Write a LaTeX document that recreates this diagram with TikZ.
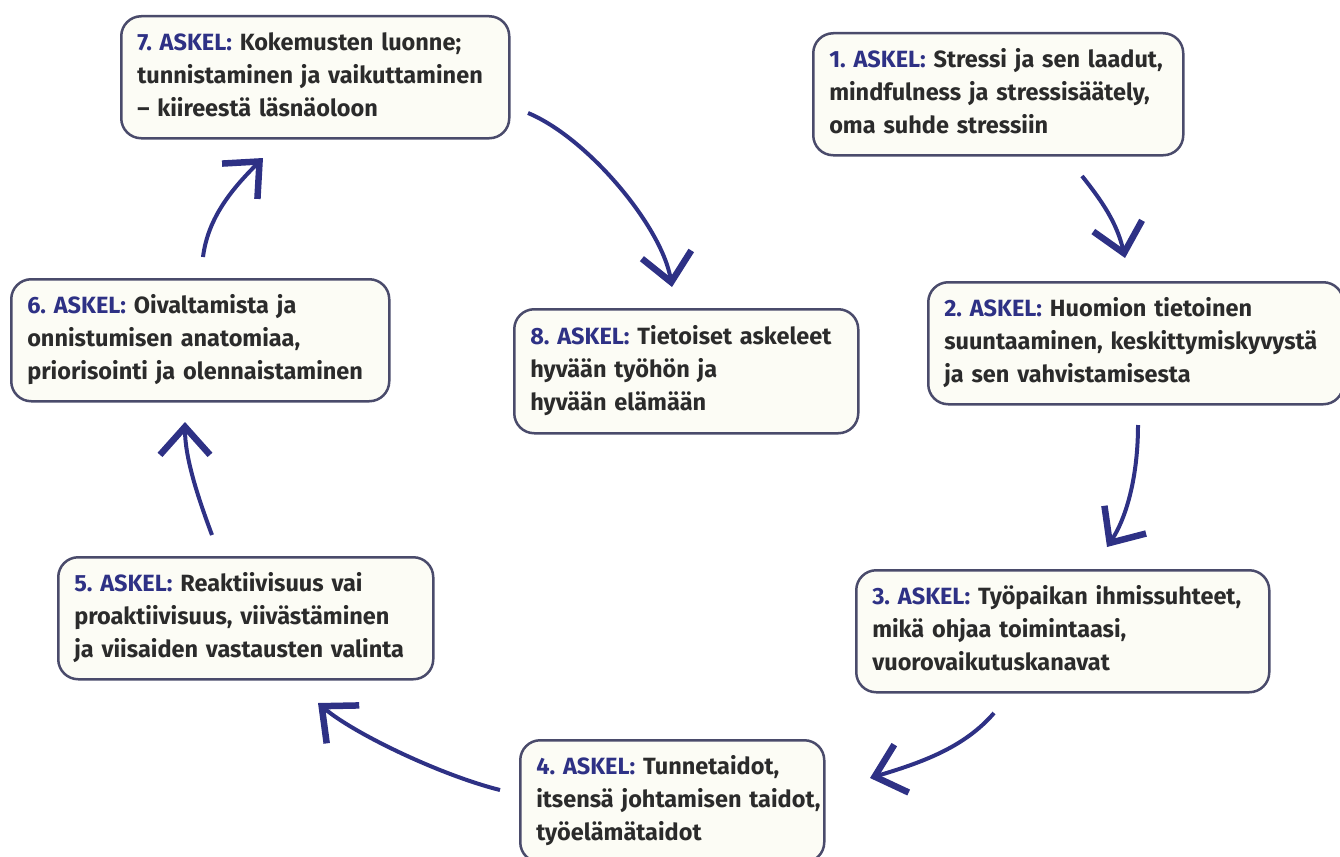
\documentclass[tikz,border=0pt]{standalone}
\usepackage{fontspec}
\setmainfont{Fira Sans}
\usetikzlibrary{arrows.meta}
\definecolor{navy}{HTML}{2E3185}
\definecolor{rim}{HTML}{4A4B6B}
\definecolor{paper}{HTML}{FCFCF5}
\definecolor{ink}{HTML}{2B2B2B}
\newcommand{\askel}[1]{{\color{navy}#1.\ ASKEL:}}
\newcommand{\steptext}[1]{\begin{tabular}{@{}l@{}}#1\end{tabular}}
\begin{document}
\begin{tikzpicture}[x=1pt,y=-1pt,
stepbox/.style={draw=rim, fill=paper, line width=2.5pt, rounded corners=20pt, anchor=north west,
	inner xsep=16pt, inner ysep=0pt, align=left, text=ink, font=\fontsize{23.5}{33}\selectfont\bfseries, minimum height=122pt},
flow/.style={navy, line width=4pt, -{Straight Barb[length=28pt,width=50pt,line width=6.5pt,sharp]}}]
	\useasboundingbox (0,0) rectangle (1340,856);
	\node[stepbox, text width=338pt] (s1) at (812,32) {\steptext{\askel{1} Stressi ja sen laadut,\\ mindfulness ja stressisäätely,\\ oma suhde stressiin}};
	\node[stepbox, text width=383pt] (s2) at (927,281) {\steptext{\askel{2} Huomion tietoinen\\ suuntaaminen, keskittymiskyvystä\\ ja sen vahvistamisesta}};
	\node[stepbox, text width=381pt] (s3) at (855,569) {\steptext{\askel{3} Työpaikan ihmissuhteet,\\ mikä ohjaa toimintaasi,\\ vuorovaikutuskanavat}};
	\node[stepbox, text width=272pt] (s4) at (519,739) {\steptext{\askel{4} Tunnetaidot,\\ itsensä johtamisen taidot,\\ työelämätaidot}};
	\node[stepbox, text width=343pt] (s5) at (57,556) {\steptext{\askel{5} Reaktiivisuus vai\\ proaktiivisuus, viivästäminen\\ ja viisaiden vastausten valinta}};
	\node[stepbox, text width=346pt] (s6) at (10,278) {\steptext{\askel{6} Oivaltamista ja\\ onnistumisen anatomiaa,\\ priorisointi ja olennaistaminen}};
	\node[stepbox, text width=356pt] (s7) at (120,15) {\steptext{\askel{7} Kokemusten luonne;\\ tunnistaminen ja vaikuttaminen\\ -- kiireestä läsnäoloon}};
	\node[stepbox, text width=312pt, minimum height=124pt] (s8) at (513,308) {\steptext{\askel{8} Tietoiset askeleet\\ hyvään työhön ja\\ hyvään elämään}};
	\coordinate (s1-out) at (1082,176); \coordinate (s2-in) at (1125,258);
	\coordinate (s2-out) at (1138,425); \coordinate (s3-in) at (1107,547);
	\coordinate (s3-out) at (994,713); \coordinate (s4-in) at (870,778);
	\coordinate (s4-out) at (500,790); \coordinate (s5-in) at (318,703);
	\coordinate (s5-out) at (212,535); \coordinate (s6-in) at (185,422);
	\coordinate (s6-out) at (203,257); \coordinate (s7-in) at (263,158);
	\coordinate (s7-out) at (528,113); \coordinate (s8-in) at (672,287);
	\draw[flow] (s1-out) .. controls +(20,25) and +(-8,-35) .. (s2-in);
	\draw[flow] (s2-out) .. controls +(0,50) and +(20,-30) .. (s3-in);
	\draw[flow] (s3-out) .. controls +(-30,35) and +(50,-15) .. (s4-in);
	\draw[flow] (s4-out) .. controls +(-60,-15) and +(35,30) .. (s5-in);
	\draw[flow] (s5-out) .. controls +(-15,-40) and +(0,35) .. (s6-in);
	\draw[flow] (s6-out) .. controls +(5,-40) and +(-30,30) .. (s7-in);
	\draw[flow] (s7-out) .. controls +(60,25) and +(-10,-60) .. (s8-in);
\end{tikzpicture}
\end{document}
